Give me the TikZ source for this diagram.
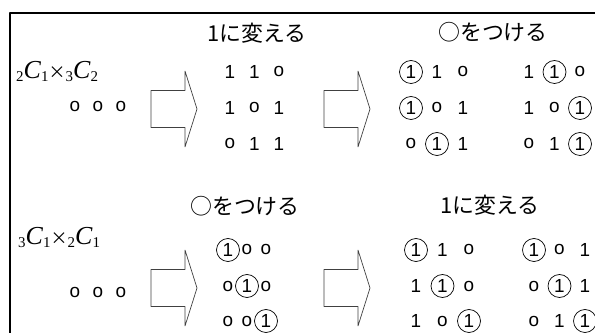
\documentclass[tikz,border=0pt]{standalone}
\usepackage{fontspec}
\newfontfamily\jpfont{Noto Sans CJK JP}
\newfontfamily\digitfont{Liberation Sans}
\newfontfamily\seriffont{Liberation Serif}
\newcommand\lowidx[1]{\raisebox{-0.1em}{\fontsize{15}{15}\selectfont #1}}
\newcommand\timessign{{\jpfont\fontsize{17}{17}\selectfont ×}}
\begin{document}
\begin{tikzpicture}[line join=bevel,
  digit/.style={inner sep=0pt,font=\digitfont\fontsize{19}{19}\selectfont},
  ring/.style={digit,draw,circle,minimum size=23bp,line width=0.7bp},
  title/.style={inner sep=0pt,font=\jpfont\fontsize{22}{22}\selectfont},
  formula/.style={inner sep=0pt,anchor=base west,font=\seriffont\fontsize{26}{26}\selectfont},
  blockarrow/.style={draw=black!75,line width=0.7bp},
  frame/.style={line width=1.5bp}]
\useasboundingbox (0bp,0bp) rectangle (595bp,333bp);
\clip (0bp,0bp) rectangle (595bp,333bp);
%%
  \draw [frame] (10bp,-5bp) -- (10bp,320bp) -- (600bp,320bp);
  \node (TopOne) at (257bp,300bp) [title] {1に変える};
  \node (TopRing) at (493bp,301bp) [title] {○をつける};
  \node (BotRing) at (245bp,127bp) [title] {○をつける};
  \node (BotOne) at (490bp,128bp) [title] {1に変える};
  \node (TopComb) at (16bp,254bp) [formula]
    {\lowidx{2}\textit{C}\lowidx{1}\timessign\lowidx{3}\textit{C}\lowidx{2}};
  \node (BotComb) at (18bp,88bp) [formula]
    {\lowidx{3}\textit{C}\lowidx{1}\timessign\lowidx{2}\textit{C}\lowidx{1}};
%% block arrows
  \foreach \dx/\dy in {0/0,173/0,0/-179,173/-179}
    \draw [blockarrow,xshift=\dx bp,yshift=\dy bp] (151bp,205.5bp) -- (185bp,205.5bp)
      -- (185bp,186bp) -- (197bp,224bp) -- (185bp,262bp) -- (185bp,242.5bp)
      -- (151bp,242.5bp) -- cycle;
%% start rows
  \foreach \i in {1,2,3} \node (TopZero-\i) at ({75bp+23bp*(\i-1)},226bp) [digit] {o};
  \foreach \i in {1,2,3} \node (BotZero-\i) at ({75bp+23bp*(\i-1)},41bp) [digit] {o};
%% top: change to 1
  \foreach \v [count=\i] in {1,1,o} \node (TA1-\i) at ({230bp+24.5bp*(\i-1)},261bp) [digit] {\v};
  \foreach \v [count=\i] in {1,o,1} \node (TA2-\i) at ({230bp+24.5bp*(\i-1)},225bp) [digit] {\v};
  \foreach \v [count=\i] in {o,1,1} \node (TA3-\i) at ({230bp+24.5bp*(\i-1)},189bp) [digit] {\v};
%% top: put a ring
  \foreach \s/\v [count=\i] in {ring/1,digit/1,digit/o} \node (TB1-\i) at ({411bp+26bp*(\i-1)},261bp) [\s] {\v};
  \foreach \s/\v [count=\i] in {ring/1,digit/o,digit/1} \node (TB2-\i) at ({411bp+26bp*(\i-1)},225bp) [\s] {\v};
  \foreach \s/\v [count=\i] in {digit/o,ring/1,digit/1} \node (TB3-\i) at ({411bp+26bp*(\i-1)},189bp) [\s] {\v};
  \foreach \s/\v [count=\i] in {digit/1,ring/1,digit/o} \node (TC1-\i) at ({529bp+25.5bp*(\i-1)},261bp) [\s] {\v};
  \foreach \s/\v [count=\i] in {digit/1,digit/o,ring/1} \node (TC2-\i) at ({529bp+25.5bp*(\i-1)},225bp) [\s] {\v};
  \foreach \s/\v [count=\i] in {digit/o,digit/1,ring/1} \node (TC3-\i) at ({529bp+25.5bp*(\i-1)},189bp) [\s] {\v};
%% bottom: put a ring
  \foreach \s/\v [count=\i] in {ring/1,digit/o,digit/o} \node (BA1-\i) at ({228bp+19bp*(\i-1)},83bp) [\s] {\v};
  \foreach \s/\v [count=\i] in {digit/o,ring/1,digit/o} \node (BA2-\i) at ({228bp+19bp*(\i-1)},47bp) [\s] {\v};
  \foreach \s/\v [count=\i] in {digit/o,digit/o,ring/1} \node (BA3-\i) at ({228bp+19bp*(\i-1)},12bp) [\s] {\v};
%% bottom: change to 1
  \foreach \s/\v [count=\i] in {ring/1,digit/1,digit/o} \node (BB1-\i) at ({416bp+26.5bp*(\i-1)},83bp) [\s] {\v};
  \foreach \s/\v [count=\i] in {digit/1,ring/1,digit/o} \node (BB2-\i) at ({416bp+26.5bp*(\i-1)},47bp) [\s] {\v};
  \foreach \s/\v [count=\i] in {digit/1,digit/o,ring/1} \node (BB3-\i) at ({416bp+26.5bp*(\i-1)},12bp) [\s] {\v};
  \foreach \s/\v [count=\i] in {ring/1,digit/o,digit/1} \node (BC1-\i) at ({534bp+25.5bp*(\i-1)},83bp) [\s] {\v};
  \foreach \s/\v [count=\i] in {digit/o,ring/1,digit/1} \node (BC2-\i) at ({534bp+25.5bp*(\i-1)},47bp) [\s] {\v};
  \foreach \s/\v [count=\i] in {digit/o,digit/1,ring/1} \node (BC3-\i) at ({534bp+25.5bp*(\i-1)},12bp) [\s] {\v};
%
\end{tikzpicture}
\end{document}
